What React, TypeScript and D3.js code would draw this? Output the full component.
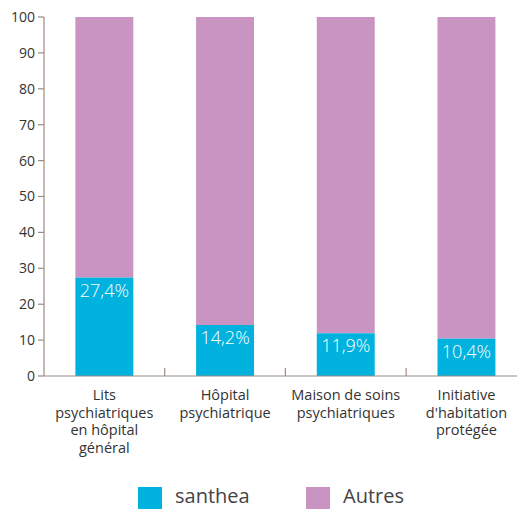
import * as d3 from "d3";

const categories = [
  ["Lits", "psychiatriques", "en hôpital", "général"],
  ["Hôpital", "psychiatrique"],
  ["Maison de soins", "psychiatriques"],
  ["Initiative", "d'habitation", "protégée"],
];
const santhea = [27.4, 14.2, 11.9, 10.4];
const yTicks = [0, 10, 20, 30, 40, 50, 60, 70, 80, 90, 100];
const legend = ["santhea", "Autres"];

const WIDTH = 519;
const HEIGHT = 509;
const MARGIN = { top: 17, left: 44, bottom: 133 };
const BLUE = "#00b2dd";
const PURPLE = "#c994c2";
const AXIS = "#9c8b80";
const FONT = "'Open Sans', sans-serif";

export default function App() {
  const y0 = HEIGHT - MARGIN.bottom;
  const yScale = d3.scaleLinear().domain([0, 100]).range([y0, MARGIN.top]);

  // band per category; the last band runs past the right edge like the original
  const xScale = d3
    .scaleBand()
    .domain(categories.map((_, i) => String(i)))
    .range([MARGIN.left, MARGIN.left + 4 * 120.7])
    .padding(0);
  const barW = xScale.bandwidth() * 0.48;

  const fmt = (v) => v.toFixed(1).replace(".", ",") + "%";

  return (
    <svg
      width={WIDTH}
      height={HEIGHT}
      style={{ position: "absolute", left: 0, top: 0, fontFamily: FONT }}
    >
      {/* bars */}
      {santhea.map((v, i) => {
        const cx = xScale(String(i)) + xScale.bandwidth() / 2;
        return (
          <g key={i}>
            <rect
              x={cx - barW / 2}
              y={yScale(100)}
              width={barW}
              height={yScale(v) - yScale(100)}
              fill={PURPLE}
            />
            <rect
              x={cx - barW / 2}
              y={yScale(v)}
              width={barW}
              height={y0 - yScale(v)}
              fill={BLUE}
            />
            <text
              x={cx}
              y={yScale(v) + 19}
              textAnchor="middle"
              fill="white"
              fontSize={18}
              fontWeight={300}
            >
              {fmt(v)}
            </text>
          </g>
        );
      })}

      {/* y axis */}
      <line x1={MARGIN.left} x2={MARGIN.left} y1={MARGIN.top} y2={y0} stroke={AXIS} strokeWidth={1.2} />
      {yTicks.map((t) => (
        <g key={t}>
          <line x1={MARGIN.left - 6} x2={MARGIN.left} y1={yScale(t)} y2={yScale(t)} stroke={AXIS} strokeWidth={1.2} />
          <text
            x={MARGIN.left - 9}
            y={yScale(t)}
            dy="0.35em"
            textAnchor="end"
            fontSize={14}
            fill="#333"
          >
            {t}
          </text>
        </g>
      ))}

      {/* x axis */}
      <line x1={MARGIN.left} x2={517} y1={y0} y2={y0} stroke={AXIS} strokeWidth={1.2} />
      {categories.slice(1).map((_, i) => {
        const x = xScale(String(i + 1));
        return <line key={i} x1={x} x2={x} y1={y0} y2={y0 - 8} stroke={AXIS} strokeWidth={1.2} />;
      })}
      {categories.map((lines, i) => (
        <text
          key={i}
          x={xScale(String(i)) + xScale.bandwidth() / 2}
          y={y0 + 24}
          textAnchor="middle"
          fontSize={14.5}
          fill="#333"
        >
          {lines.map((l, j) => (
            <tspan key={j} x={xScale(String(i)) + xScale.bandwidth() / 2} dy={j === 0 ? 0 : 17.6}>
              {l}
            </tspan>
          ))}
        </text>
      ))}

      {/* legend */}
      {legend.map((name, i) => {
        const lx = 138 + i * 168;
        return (
          <g key={name}>
            <rect x={lx} y={487} width={24} height={22} fill={i === 0 ? BLUE : PURPLE} />
            <text x={lx + 37} y={503} fontSize={20} fill="#444">
              {name}
            </text>
          </g>
        );
      })}
    </svg>
  );
}
